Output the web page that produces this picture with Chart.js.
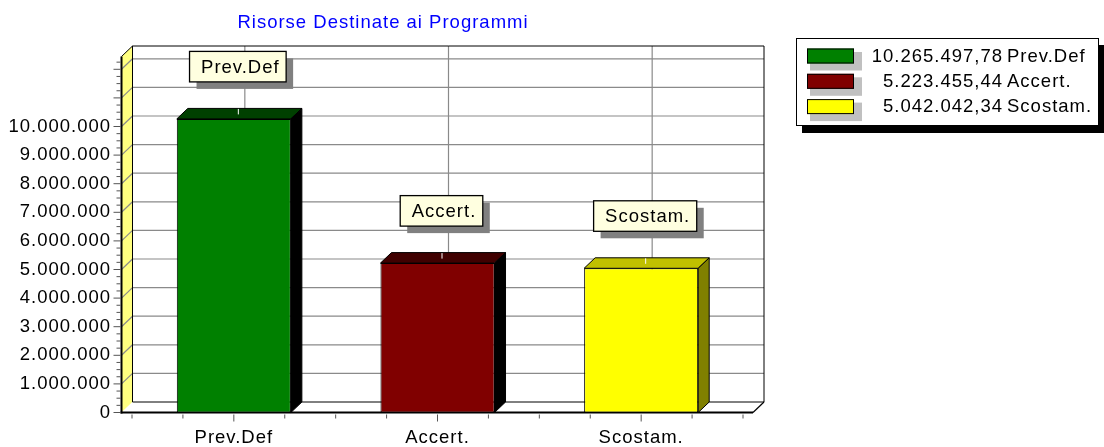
<!DOCTYPE html>
<html><head><meta charset="utf-8">
<script src="https://cdn.jsdelivr.net/npm/chart.js@4.4.0/dist/chart.umd.min.js"></script>
<style>html,body{margin:0;padding:0;background:#fff;}canvas{display:block;}</style>
</head><body>
<canvas id="c" width="1104" height="447"></canvas>
<script>
const categories = ['Prev.Def', 'Accert.', 'Scostam.'];
const values = [10265497.78, 5223455.44, 5042042.34];
const frontColors = ['#008000', '#800000', '#ffff00'];
const topColors = ['#004000', '#400000', '#c0c000'];
const sideColors = ['#000000', '#000000', '#808000'];
const yMax = 12500000;
const yTicks = [0, 1000000, 2000000, 3000000, 4000000, 5000000, 6000000, 7000000, 8000000, 9000000, 10000000, 11000000, 12000000];
const yMinorStep = 250000;
const yLabelMax = 10000000;
const titleText = 'Risorse Destinate ai Programmi';

const FAMILY = '"Liberation Sans", Arial, Helvetica, sans-serif';
const FSIZE = 18.5;
const FONT = FSIZE + 'px ' + FAMILY;
const DX = 11, DY = -10.5;

Chart.defaults.font.family = FAMILY;

function fmtInt(n) { return String(Math.round(n)).replace(/\B(?=(\d{3})+(?!\d))/g, '.'); }
function fmtDec(n) { const p = n.toFixed(2).split('.'); return fmtInt(+p[0]) + ',' + p[1]; }

function poly(ctx, pts, fill, stroke, lw) {
  ctx.beginPath();
  ctx.moveTo(pts[0][0], pts[0][1]);
  for (let i = 1; i < pts.length; i++) ctx.lineTo(pts[i][0], pts[i][1]);
  ctx.closePath();
  if (fill) { ctx.fillStyle = fill; ctx.fill(); }
  if (stroke) { ctx.strokeStyle = stroke; ctx.lineWidth = lw || 1; ctx.stroke(); }
}
function line(ctx, x1, y1, x2, y2, color, lw) {
  ctx.beginPath(); ctx.moveTo(x1, y1); ctx.lineTo(x2, y2);
  ctx.strokeStyle = color; ctx.lineWidth = lw || 1; ctx.stroke();
}

const threeD = {
  id: 'threeD',
  beforeUpdate(chart) { chart.ctx.letterSpacing = '1px'; },
  beforeDraw(chart) { chart.ctx.letterSpacing = '1px'; },
  beforeDatasetsDraw(chart) {
    const ctx = chart.ctx, a = chart.chartArea, x = chart.scales.x, y = chart.scales.y;
    const fl = a.left - 10.5, fr = a.right + 10, fb = a.bottom, ft = a.top + 1.5;
    const bl = fl + DX, br = fr + DX, bb = fb + DY, bt = ft + DY;
    ctx.save();
    ctx.fillStyle = '#fff'; ctx.fillRect(bl, bt, br - bl, bb - bt);
    poly(ctx, [[fl, fb], [fl, ft], [bl, bt], [bl, bb]], '#ffff80', null);
    poly(ctx, [[fl, fb], [fr, fb], [br, bb], [bl, bb]], '#ffffff', null);
    yTicks.forEach(v => {
      if (v === 0) return;
      const py = y.getPixelForValue(v);
      line(ctx, bl, py + DY, br, py + DY, '#8a8a8a', 1.2);
      line(ctx, fl, py, bl, py + DY, '#8a8a8a', 1.2);
    });
    categories.forEach((c, i) => {
      const px = x.getPixelForValue(i) + DX;
      line(ctx, px, bt, px, bb, '#8a8a8a', 1.2);
    });
    line(ctx, bl, bt, br, bt, '#000', 1);
    line(ctx, br, bt, br, bb, '#000', 1);
    line(ctx, bl, bt, bl, bb, '#000', 1);
    line(ctx, fl, ft, bl, bt, '#000', 1);
    line(ctx, bl, bb, br, bb, '#000', 1);
    line(ctx, fr, fb, br, bb, '#000', 1.2);
    line(ctx, fl, ft, fl, fb + 1, '#000', 2);
    line(ctx, fl - 1, fb, fr, fb, '#000', 2);
    for (let v = 0; v < yMax; v += yMinorStep) {
      const py = y.getPixelForValue(v);
      const major = yTicks.includes(v);
      line(ctx, fl - (major ? 8 : 5), py, fl - 1, py, '#555', 1);
    }
    const w = x.getPixelForValue(1) - x.getPixelForValue(0);
    categories.forEach((c, i) => {
      const cx = x.getPixelForValue(i);
      for (let q = -2; q <= 1; q++) {
        const px = cx + q * w / 4;
        line(ctx, px, fb + 2, px, fb + (q === 0 ? 9 : 6), '#555', 1);
      }
      if (i === categories.length - 1) {
        const px = cx + w / 2;
        line(ctx, px, fb + 2, px, fb + 6, '#555', 1);
      }
    });
    ctx.restore();
  },
  afterDatasetsDraw(chart) {
    const ctx = chart.ctx;
    const meta = chart.getDatasetMeta(0);
    ctx.save();
    ctx.letterSpacing = '1px';
    meta.data.forEach((el, i) => {
      const L = el.x - el.width / 2, R = el.x + el.width / 2, T = el.y, B = el.base;
      poly(ctx, [[L, T], [R, T], [R + DX, T + DY], [L + DX, T + DY]], topColors[i], '#000', 1);
      poly(ctx, [[R, T], [R + DX, T + DY], [R + DX, B + DY], [R, B]], sideColors[i], '#000', 1);
      line(ctx, el.x + 4.5, T + DY + 0.5, el.x + 4.5, T + DY + 6, '#fff', 1);
      ctx.font = FONT;
      const tw = ctx.measureText(categories[i]).width;
      const bw = tw + 18, bh = 30.5;
      const cx = el.x + 4;
      const left = cx - bw / 2, bottom = T - 37, top = bottom - bh;
      ctx.fillStyle = '#808080';
      ctx.fillRect(left + 7, top + 7, bw, bh);
      ctx.fillStyle = '#ffffe0';
      ctx.fillRect(left, top, bw, bh);
      ctx.strokeStyle = '#000'; ctx.lineWidth = 1.3;
      ctx.strokeRect(left, top, bw, bh);
      ctx.fillStyle = '#000';
      ctx.textAlign = 'left'; ctx.textBaseline = 'middle';
      ctx.fillText(categories[i], left + 11.5, top + bh / 2 + 1);
    });
    ctx.restore();
  },
  afterDraw(chart) {
    const ctx = chart.ctx;
    ctx.save();
    ctx.letterSpacing = '1px';
    ctx.font = FONT;
    ctx.fillStyle = '#0000ff';
    ctx.textAlign = 'center'; ctx.textBaseline = 'middle';
    ctx.fillText(titleText, 383, 22.5);
    const lx = 796, ly = 38, lw = 303, lh = 88;
    ctx.fillStyle = '#000'; ctx.fillRect(lx + 6, ly + 7, lw, lh);
    ctx.fillStyle = '#fff'; ctx.fillRect(lx, ly, lw, lh);
    ctx.strokeStyle = '#000'; ctx.lineWidth = 1;
    ctx.strokeRect(lx + 0.5, ly + 0.5, lw - 1, lh - 1);
    categories.forEach((c, i) => {
      const sy = 48.5 + i * 25.3;
      ctx.fillStyle = '#c0c0c0'; ctx.fillRect(810, sy + 3.5, 52, 18.5);
      ctx.fillStyle = frontColors[i]; ctx.fillRect(807, sy, 47, 15);
      ctx.strokeStyle = '#000'; ctx.lineWidth = 1; ctx.strokeRect(807.5, sy + 0.5, 46, 14);
      ctx.fillStyle = '#000'; ctx.textBaseline = 'middle';
      ctx.textAlign = 'right'; ctx.fillText(fmtDec(values[i]), 1003, sy + 8);
      ctx.textAlign = 'left'; ctx.fillText(c, 1007, sy + 8);
    });
    ctx.restore();
  }
};

new Chart(document.getElementById('c'), {
  type: 'bar',
  data: {
    labels: categories,
    datasets: [{
      data: values,
      backgroundColor: frontColors,
      borderColor: '#000',
      borderWidth: 1,
      borderSkipped: false,
      categoryPercentage: 1,
      barPercentage: 0.56
    }]
  },
  options: {
    responsive: false,
    animation: false,
    devicePixelRatio: 1,
    layout: { padding: { left: 0, top: 55, right: 361, bottom: 0 } },
    plugins: { legend: { display: false }, title: { display: false }, tooltip: { enabled: false } },
    scales: {
      x: {
        grid: { display: false, drawTicks: false },
        border: { display: false },
        ticks: { color: '#000', font: { size: FSIZE }, padding: 14, maxRotation: 0, autoSkip: false },
        afterFit(s) { s.height = 34.5; }
      },
      y: {
        min: 0, max: yMax,
        grid: { display: false, drawTicks: false },
        border: { display: false },
        ticks: {
          color: '#000', font: { size: FSIZE }, padding: 21, autoSkip: false,
          callback: (v) => v <= yLabelMax ? fmtInt(v) : ''
        },
        afterBuildTicks(s) { s.ticks = yTicks.map(v => ({ value: v })); },
        afterFit(s) { s.width = 132; }
      }
    }
  },
  plugins: [threeD]
});
</script>
</body></html>
